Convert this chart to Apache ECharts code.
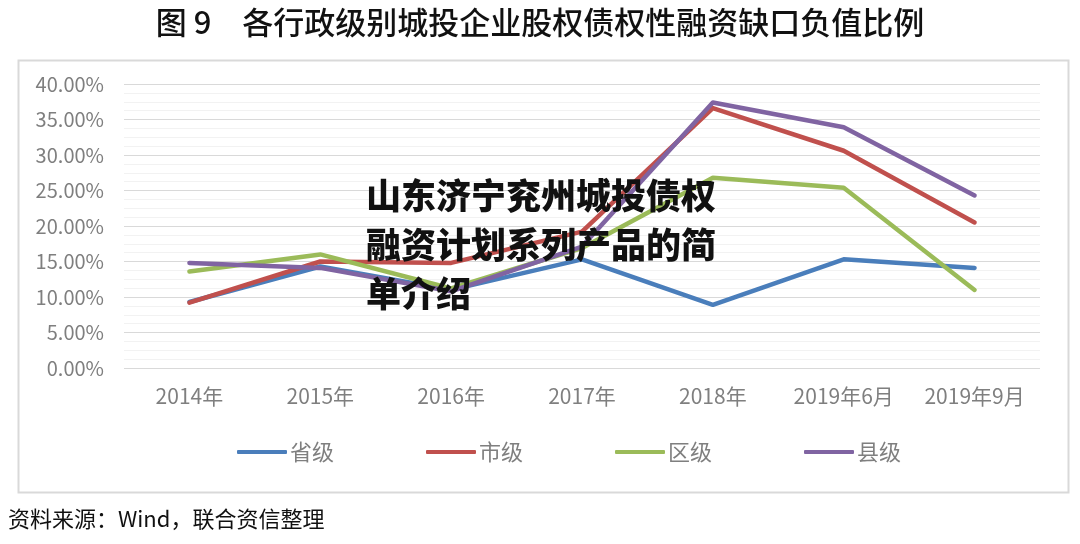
<!DOCTYPE html>
<html><head><meta charset="utf-8">
<script src="https://cdn.jsdelivr.net/npm/echarts@6/dist/echarts.min.js"></script>
<style>html,body{margin:0;padding:0;background:#fff}#c{width:1080px;height:544px}</style>
</head><body><div id="c"></div>
<script>
const categories = ['2014年','2015年','2016年','2017年','2018年','2019年6月','2019年9月'];
const provincial = [9.3, 14.3, 11.0, 15.3, 8.9, 15.3, 14.1];
const municipal  = [9.2, 15.0, 14.8, 19.2, 36.6, 30.6, 20.5];
const district   = [13.6, 16.0, 11.2, 16.9, 26.8, 25.4, 11.0];
const county     = [14.8, 14.1, 10.8, 17.1, 37.4, 33.9, 24.3];
const seriesNames = ['省级','市级','区级','县级'];
const colors = ['#4a7ebb','#c0504d','#9bbb59','#8064a2'];
const titleText = '图 9　各行政级别城投企业股权债权性融资缺口负值比例';
const sourceText = '资料来源：Wind，联合资信整理';
const overlayLines = ['山东济宁兖州城投债权','融资计划系列产品的简','单介绍'];

const chart = echarts.init(document.getElementById('c'));
const font = '"Noto Sans CJK SC", "Noto Sans", sans-serif';
const dataSets = [provincial, municipal, district, county];
chart.setOption({
  backgroundColor: '#fff',
  animation: false,
  textStyle: {fontFamily: font},
  title: {text: titleText, left: 'center', top: 2,
    textStyle: {fontSize: 31, fontWeight: 500, color: '#111', fontFamily: font}},
  grid: {left: 124, right: 40, top: 84, bottom: 176},
  legend: {bottom: 76, left: 232, itemWidth: 50, itemHeight: 4, itemGap: 92,
    icon: 'roundRect',
    textStyle: {fontSize: 22, color: '#7f7f7f', fontFamily: font, padding: [0,0,0,-2]},
    data: seriesNames},
  xAxis: {type: 'category', data: categories, boundaryGap: true,
    axisLine: {show: false}, axisTick: {show: false},
    axisLabel: {fontSize: 21, color: '#7f7f7f', margin: 18}},
  yAxis: {type: 'value', min: 0, max: 40, interval: 5,
    axisLine: {show: false}, axisTick: {show: false},
    axisLabel: {fontSize: 20, color: '#7f7f7f', margin: 20, formatter: v => v.toFixed(2) + '%'},
    splitLine: {lineStyle: {color: '#d9d9d9', width: 1}},
    minorTick: {show: false, splitNumber: 4},
    minorSplitLine: {show: true, lineStyle: {color: '#f2f2f2', width: 1}}},
  series: seriesNames.map((n, i) => ({
    name: n, type: 'line', data: dataSets[i], symbol: 'none',
    itemStyle: {color: colors[i]},
    lineStyle: {color: colors[i], width: 4.5, cap: 'round', join: 'round'}
  })),
  graphic: [
    {type: 'rect', left: 16, top: 58, shape: {width: 1050, height: 432},
      style: {fill: 'none', stroke: '#d9d9d9', lineWidth: 2}, silent: true, z: -1},
    {type: 'text', left: 8, top: 508, style: {text: sourceText, fontSize: 22, fill: '#111', fontFamily: font}},
    {type: 'text', left: 366, top: 171, z: 100,
      style: {text: overlayLines.join('\n'), fontSize: 35, fontWeight: 900, lineHeight: 49,
        fill: '#111', fontFamily: font}}
  ]
});
</script></body></html>
